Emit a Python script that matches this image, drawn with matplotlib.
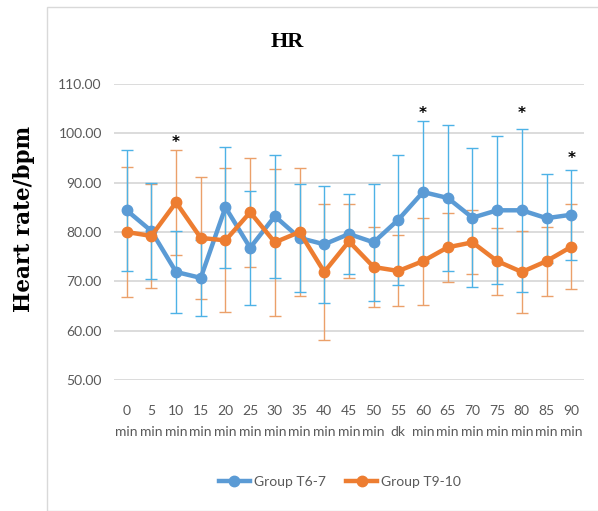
import matplotlib
matplotlib.use("Agg")
import matplotlib.pyplot as plt
from matplotlib.patches import Rectangle
import numpy as np

# data
times = ["0\nmin", "5\nmin", "10\nmin", "15\nmin", "20\nmin", "25\nmin", "30\nmin",
         "35\nmin", "40\nmin", "45\nmin", "50\nmin", "55\ndk", "60\nmin", "65\nmin",
         "70\nmin", "75\nmin", "80\nmin", "85\nmin", "90\nmin"]
t67_mean = [84.4, 80.2, 71.9, 70.7, 85.0, 76.8, 83.2, 78.8, 77.5, 79.6,
            77.9, 82.5, 88.1, 86.9, 82.9, 84.4, 84.4, 82.8, 83.5]
t67_sd = [12.3, 9.8, 8.4, 7.7, 12.2, 11.6, 12.5, 11.0, 11.8, 8.2,
          11.9, 13.2, 14.3, 14.8, 14.1, 15.0, 16.5, 9.0, 9.1]
t910_mean = [80.0, 79.2, 86.0, 78.8, 78.3, 84.0, 77.9, 80.0, 71.9, 78.1,
             72.9, 72.1, 74.1, 76.9, 77.9, 74.1, 71.9, 74.1, 77.0]
t910_sd = [13.1, 10.5, 10.7, 12.3, 14.6, 11.1, 14.9, 13.0, 13.7, 7.5,
           8.2, 7.2, 8.8, 7.0, 6.5, 6.8, 8.3, 7.0, 8.6]
star_idx = [2, 12, 16, 18]
star_val = [98.2, 104.1, 104.1, 95.0]

blue = "#5B9BD5"
orange = "#ED7D31"

plt.rcParams['font.family'] = ['Lato', 'DejaVu Sans']

fig = plt.figure(figsize=(5.98, 5.11), dpi=100)
fig.patches.append(Rectangle((47 / 598, 0.0), 1.0, 1 - 7 / 511, transform=fig.transFigure,
                             fill=False, edgecolor="#D9D9D9", linewidth=1.0))

ax = fig.add_axes([114.3 / 598, 1 - 380 / 511, (583.6 - 114.3) / 598, 296 / 511])
x = np.arange(len(times))

ax.errorbar(x, t910_mean, yerr=t910_sd, fmt="none", ecolor="#EBA06A", elinewidth=1.0,
            capsize=4, capthick=1.0, zorder=3)
ax.errorbar(x, t67_mean, yerr=t67_sd, fmt="none", ecolor="#4DB2E6", elinewidth=1.0,
            capsize=4, capthick=1.0, zorder=3)
ax.plot(x, t67_mean, color=blue, lw=3.2, marker="o", ms=7.5, label="Group T6-7", zorder=4)
ax.plot(x, t910_mean, color=orange, lw=3.2, marker="o", ms=7.5, label="Group T9-10", zorder=4)

for i, v in zip(star_idx, star_val):
    ax.text(i, v, "*", ha="center", va="center", fontsize=11, fontweight="bold",
            color="black", family="DejaVu Sans")

ax.set_xlim(-0.5, len(times) - 0.5)
ax.set_ylim(50, 110)
ax.set_yticks(np.arange(50, 111, 10))
ax.set_yticklabels(["%.2f" % v for v in np.arange(50, 111, 10)])
ax.set_xticks(x)
ax.set_xticklabels(times, linespacing=1.95)
ax.tick_params(axis="both", length=0, labelsize=10, colors="#595959")
ax.tick_params(axis="x", pad=18)
ax.tick_params(axis="y", pad=9)
ax.grid(axis="y", color="#D9D9D9", lw=1.3)
ax.set_axisbelow(True)
for s in ax.spines.values():
    s.set_visible(False)

fig.text(287 / 598, 1 - 42 / 511, "HR", ha="center", va="center", fontsize=16,
         fontweight="bold", family="Liberation Serif")
fig.text(24 / 598, 1 - 219 / 511, "Heart rate/bpm", ha="center", va="center", rotation=90,
         fontsize=15.5, fontweight="bold", family="DejaVu Serif")

fig.legend(loc="center", bbox_to_anchor=(340 / 598, 1 - 482 / 511), ncol=2, frameon=False,
           fontsize=10, labelcolor="#595959", handlelength=2.2, handletextpad=0.3,
           columnspacing=1.5)

fig.savefig("out.png", dpi=100)
